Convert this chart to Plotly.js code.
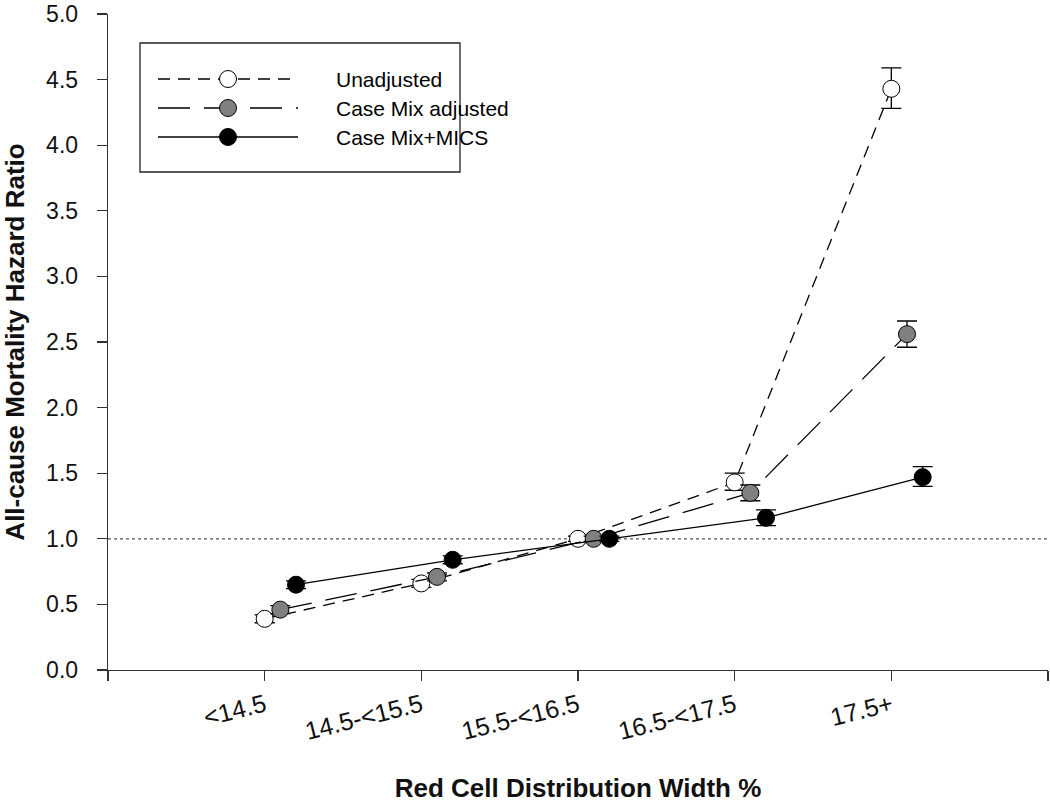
<!DOCTYPE html>
<html>
<head>
<meta charset="utf-8">
<script src="https://cdn.plot.ly/plotly-3.0.1.min.js"></script>
<style>body{margin:0;background:#fff}#chart{width:1050px;height:803px}</style>
</head>
<body>
<div id="chart"></div>
<script>
// Data
const categories = ["<14.5", "14.5-<15.5", "15.5-<16.5", "16.5-<17.5", "17.5+"];
const seriesNames = ["Unadjusted", "Case Mix adjusted", "Case Mix+MICS"];
const unadjusted = [0.39, 0.66, 1.00, 1.43, 4.43];
const unadjErrPlus = [0.03, 0.03, 0.02, 0.07, 0.16];
const unadjErrMinus = [0.03, 0.03, 0.02, 0.06, 0.15];
const caseMix = [0.46, 0.71, 1.00, 1.35, 2.56];
const caseMixErrPlus = [0.03, 0.03, 0.02, 0.06, 0.10];
const caseMixErrMinus = [0.03, 0.03, 0.02, 0.06, 0.10];
const caseMixMics = [0.65, 0.84, 1.00, 1.16, 1.47];
const micsErrPlus = [0.03, 0.03, 0.02, 0.06, 0.08];
const micsErrMinus = [0.03, 0.03, 0.02, 0.06, 0.07];
const seriesOffsets = [0, 0.1, 0.2];
const referenceValue = 1.0;
const yTickVals = [0, 0.5, 1, 1.5, 2, 2.5, 3, 3.5, 4, 4.5, 5];
const yTickText = ['0.0', '0.5', '1.0', '1.5', '2.0', '2.5', '3.0', '3.5', '4.0', '4.5', '5.0'];

const FONT = '"Liberation Sans", Arial, sans-serif';

const catIdx = categories.map((c, i) => i);
function xs(off) { return catIdx.map(i => i + off); }

const styles = [
  {fill: '#ffffff', dash: '12px,8px'},
  {fill: '#808080', dash: '32px,14px'},
  {fill: '#000000', dash: 'solid'}
];
const values = [unadjusted, caseMix, caseMixMics];
const errP = [unadjErrPlus, caseMixErrPlus, micsErrPlus];
const errM = [unadjErrMinus, caseMixErrMinus, micsErrMinus];

const traces = values.map((v, s) => ({
  type: 'scatter', mode: 'lines+markers', name: seriesNames[s],
  x: xs(seriesOffsets[s]), y: v,
  line: {color: '#000', width: 1.3, dash: styles[s].dash},
  marker: {size: 17, color: styles[s].fill, line: {color: '#000', width: 1}},
  error_y: {type: 'data', symmetric: false, array: errP[s], arrayminus: errM[s],
            color: '#000', thickness: 1.3, width: 10},
  showlegend: false, hoverinfo: 'x+y'
}));

// plot area in pixels
const L = 108, R = 1048, T = 14, B = 670;
function px(x) { return (x - L) / (R - L); }
function py(y) { return (B - y) / (B - T); }

const shapes = [
  {type: 'line', xref: 'x', yref: 'y', x0: -1, x1: 5, y0: referenceValue, y1: referenceValue,
   line: {color: '#555', width: 1.2, dash: 'dot'}, layer: 'below'},
  {type: 'rect', xref: 'paper', yref: 'paper', x0: px(140), x1: px(460), y0: py(172), y1: py(43),
   line: {color: '#222', width: 1.3}, fillcolor: '#fff'}
];
const annotations = [];
const rowY = [79, 108, 137];
seriesNames.forEach((n, s) => {
  shapes.push({type: 'line', xref: 'paper', yref: 'paper', x0: px(158), x1: px(298),
    y0: py(rowY[s]), y1: py(rowY[s]), line: {color: '#000', width: 1.3, dash: styles[s].dash}});
  shapes.push({type: 'circle', xref: 'paper', yref: 'paper', xsizemode: 'pixel', ysizemode: 'pixel',
    xanchor: px(228), yanchor: py(rowY[s]), x0: -8.5, x1: 8.5, y0: -8.5, y1: 8.5,
    fillcolor: styles[s].fill, line: {color: '#000', width: 1}});
  annotations.push({xref: 'paper', yref: 'paper', x: px(334), y: py(rowY[s]), xanchor: 'left', yanchor: 'middle',
    text: n, showarrow: false, font: {family: FONT, size: 21, color: '#000'}});
});

const layout = {
  width: 1050, height: 803,
  margin: {l: L, r: 1050 - R, t: T, b: 803 - B},
  paper_bgcolor: '#fff', plot_bgcolor: '#fff',
  showlegend: false,
  xaxis: {
    range: [-1, 5], tickmode: 'array', tickvals: [-1, 0, 1, 2, 3, 4, 5],
    ticktext: [''].concat(categories).concat(['']), tickangle: -14,
    ticks: 'outside', ticklen: 10, tickwidth: 1.2, tickcolor: '#333',
    showline: true, linecolor: '#333', linewidth: 1.3, showgrid: false, zeroline: false,
    tickfont: {family: FONT, size: 25, color: '#111'},
    title: {text: '<b>Red Cell Distribution Width %</b>', font: {family: FONT, size: 26, color: '#111'}, standoff: 40}
  },
  yaxis: {
    range: [0, 5], tickmode: 'array', tickvals: yTickVals, ticktext: yTickText,
    ticks: 'outside', ticklen: 10, tickwidth: 1.2, tickcolor: '#333', ticklabelstandoff: 14,
    showline: true, linecolor: '#333', linewidth: 1.3, showgrid: false, zeroline: false,
    tickfont: {family: FONT, size: 23, color: '#111'},
    title: {text: '<b>All-cause Mortality Hazard Ratio</b>', font: {family: FONT, size: 26, color: '#111'}, standoff: 20}
  },
  shapes: shapes,
  annotations: annotations
};

Plotly.newPlot('chart', traces, layout, {displayModeBar: false, staticPlot: true});
</script>
</body>
</html>
